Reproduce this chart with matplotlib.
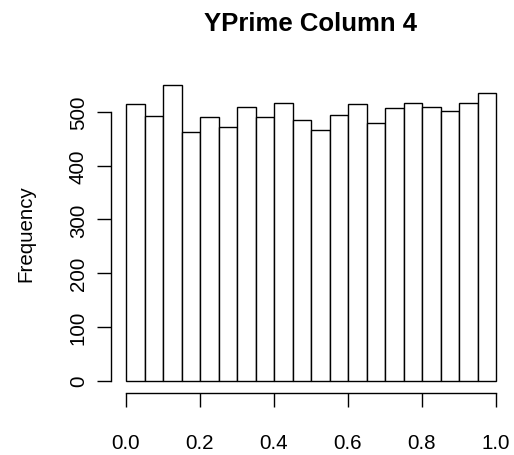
import matplotlib
matplotlib.use("Agg")
import matplotlib.pyplot as plt
import numpy as np

# Data
bin_edges = [round(0.05 * i, 2) for i in range(21)]
counts = [514, 493, 551, 463, 491, 473, 510, 491, 516, 485,
          466, 494, 514, 479, 507, 516, 510, 501, 516, 535]
x_ticks = [0.0, 0.2, 0.4, 0.6, 0.8, 1.0]
x_tick_labels = ["0.0", "0.2", "0.4", "0.6", "0.8", "1.0"]
y_ticks = [0, 100, 200, 300, 400, 500]
y_tick_labels = ["0", "100", "200", "300", "400", "500"]
title = "YPrime Column 4"
ylabel = "Frequency"

plt.rcParams['font.family'] = ['Liberation Sans', 'DejaVu Sans']

W, H = 514, 456
fig = plt.figure(figsize=(W / 100, H / 100), dpi=100)

left_px, right_px = 111.2, 510.8
top_px, bottom_px = 73.75, 393.54
ax = fig.add_axes([left_px / W, 1 - bottom_px / H,
                   (right_px - left_px) / W, (bottom_px - top_px) / H])

ymax = max(counts)
ax.set_xlim(-0.04, 1.04)
ax.set_ylim(-0.04 * ymax, ymax * 1.04)

lw = 1.0
widths = np.diff(bin_edges)
ax.bar(bin_edges[:-1], counts, width=widths, align='edge',
       facecolor='white', edgecolor='black', linewidth=lw)

for s in ['top', 'right']:
    ax.spines[s].set_visible(False)
ax.spines['left'].set_bounds(0, 500)
ax.spines['bottom'].set_bounds(0, 1)
ax.spines['left'].set_linewidth(lw)
ax.spines['bottom'].set_linewidth(lw)

ax.set_xticks(x_ticks)
ax.set_xticklabels(x_tick_labels, fontsize=14.8)
ax.set_yticks(y_ticks)
ax.set_yticklabels(y_tick_labels, fontsize=14.8, rotation=90, va='center')
ax.tick_params(axis='x', length=9.8, width=lw, pad=19)
ax.tick_params(axis='y', length=9.8, width=lw, pad=7)

cx = (left_px + right_px) / 2
fig.text(cx / W, 1 - 30.7 / H, title, ha='center', va='baseline',
         fontsize=18.5, fontweight='bold')

cy = (top_px + bottom_px) / 2
fig.text(31 / W, 1 - cy / H, ylabel, rotation=90, rotation_mode='anchor',
         ha='center', va='baseline', fontsize=14.8)

fig.savefig("out.png", dpi=100)
